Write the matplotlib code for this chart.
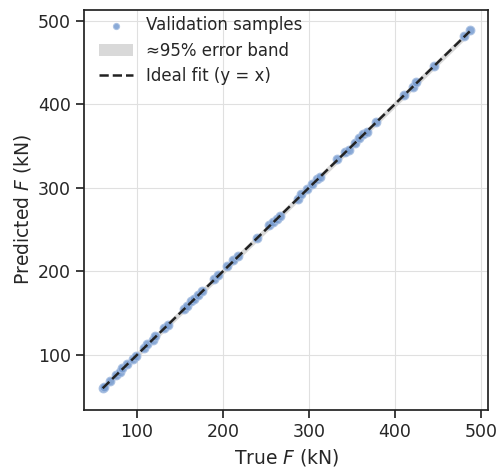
import numpy as np
import matplotlib.pyplot as plt
import seaborn as sns

sns.set_theme(style="ticks")
plt.rcParams['font.family'] = ['DejaVu Sans']

# validation samples (kN)
true_f = [60, 61, 68, 75, 80, 83, 88, 95, 99, 108, 112, 118, 121, 131, 136,
          155, 158, 163, 166, 171, 175, 190, 194, 205, 212, 217, 240, 254,
          258, 263, 266, 287, 291, 298, 304, 309, 313, 333, 342, 346, 353,
          358, 363, 368, 378, 410, 421, 425, 445, 480, 487]
pred_f = [60, 61, 69, 76, 80, 84, 89, 95, 99, 108, 113, 118, 122, 132, 136,
          155, 159, 164, 167, 172, 176, 191, 195, 206, 213, 218, 240, 255,
          259, 262, 266, 287, 292, 298, 305, 310, 313, 334, 343, 345, 354,
          359, 364, 367, 379, 411, 421, 426, 446, 481, 489]
band_half = 4.0  # approx 95% half-width (kN)

x = np.array(true_f, dtype=float)
y = np.array(pred_f, dtype=float)

fig, ax = plt.subplots(figsize=(4.96, 4.71), dpi=100)

xs = np.array([min(true_f), max(true_f)], dtype=float)
ax.scatter(x, y, s=40, color='#769bd0', alpha=0.85, edgecolor='#a9c0e2',
           linewidth=0.8, label='Validation samples', zorder=2)
ax.fill_between(xs, xs - band_half, xs + band_half, color='#d0d0d0', alpha=0.8,
                lw=0, label='≈95% error band', zorder=1)
ax.plot(xs, xs, '--', color='#222222', lw=1.8, label='Ideal fit (y = x)', zorder=3)

ax.set_xlabel('True $F$ (kN)', fontsize=13.5)
ax.set_ylabel('Predicted $F$ (kN)', fontsize=13.5)
ax.set_xticks([100, 200, 300, 400, 500])
ax.set_yticks([100, 200, 300, 400, 500])
ax.tick_params(labelsize=12.5)
ax.grid(True, color='#e0e0e0', lw=0.8)
for s in ax.spines.values():
    s.set_color('#222222')
ax.legend(loc='upper left', bbox_to_anchor=(0.0, 1.022), frameon=False,
          fontsize=12, markerscale=0.7, labelspacing=0.45)

fig.subplots_adjust(left=0.17, right=0.984, top=0.979, bottom=0.13)
fig.savefig('out.png', dpi=100)
